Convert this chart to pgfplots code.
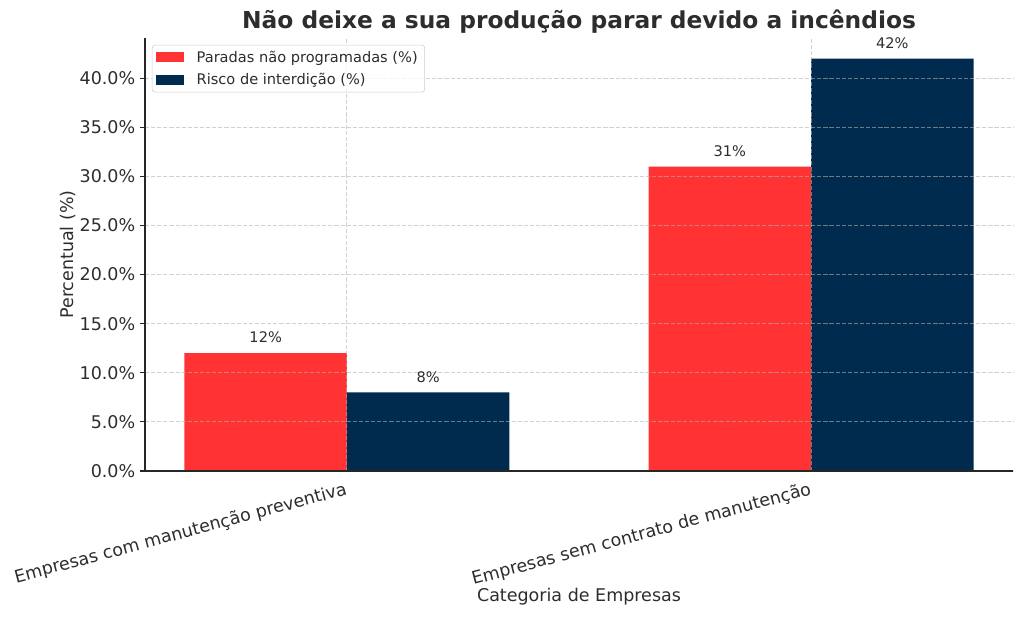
\documentclass[border=0pt]{standalone}
\usepackage{pgfplots}
\pgfplotsset{compat=1.18}
\usepackage{fontspec}
\setmainfont{DejaVu Sans}
\definecolor{redc}{RGB}{255,51,51}
\definecolor{navyc}{RGB}{0,43,79}
\definecolor{txt}{RGB}{45,45,45}
\begin{document}
\begin{tikzpicture}
\useasboundingbox (-104.4pt,-105.84pt) rectangle (632.88pt,339.12pt);
\begin{axis}[
  at={(0,0)}, anchor=south west,
  scale only axis, width=624.96pt, height=311.76pt,
  ybar, bar width=0.35,
  xmin=-0.435, xmax=1.435, ymin=0, ymax=44.1,
  axis on top,
  axis x line*=bottom, axis y line*=left,
  axis line style={-, draw=black!85, line width=0.9pt},
  xtick={0,1},
  xticklabels={Empresas com manutenção preventiva, Empresas sem contrato de manutenção},
  xtick style={draw=none},
  ytick={0,5,...,40},
  yticklabel={\pgfmathprintnumber[fixed,fixed zerofill,precision=1]{\tick}\%},
  /pgf/number format/assume math mode=true,
  tick align=outside, major tick length=3.5pt,
  ytick style={draw=black!85, line width=0.8pt},
  ticklabel style={font=\fontsize{12.6}{15}\selectfont, text=txt},
  xticklabel style={rotate=15, anchor=north east, inner sep=0pt, yshift=-3pt, xshift=-2.6pt},
  grid=major,
  major grid style={draw=gray!60, opacity=0.6, line width=0.6pt, dash pattern=on 3pt off 1.4pt},
  title={\bfseries Não deixe a sua produção parar devido a incêndios},
  title style={at={(axis description cs:0.5,1.0416)}, anchor=center, yshift=-7.5pt, font=\fontsize{16.8}{20}\selectfont, text=txt},
  xlabel={Categoria de Empresas},
  ylabel={Percentual (\%)},
  xlabel style={at={(axis description cs:0.5,-0.291)}, anchor=center, font=\fontsize{12.6}{15}\selectfont, text=txt},
  ylabel style={at={(axis description cs:-0.0887,0.5)}, anchor=center, font=\fontsize{12.6}{15}\selectfont, text=txt},
  nodes near coords={\pgfmathprintnumber{\pgfplotspointmeta}\%},
  every node near coord/.append style={font=\fontsize{10.5}{12.6}\selectfont, text=txt, anchor=south, inner sep=0pt, yshift=7pt},
  legend style={at={(axis description cs:0.008,0.984)}, anchor=north west,
    draw=black!20, rounded corners=2pt, fill=white, fill opacity=0.8, text opacity=1,
    font=\fontsize{10.5}{12.6}\selectfont, text=txt, inner xsep=3pt, inner ysep=2pt, row sep=2.5pt},
  legend cell align=left,
  legend image code/.code={\fill[#1, sharp corners, fill opacity=1] (0pt,-3.6pt) rectangle (20pt,3.6pt); \path (27pt,0pt);},
]
\addplot[fill=redc, draw=none, bar shift=-0.175] coordinates {(0,12) (1,31)};
\addplot[fill=navyc, draw=none, bar shift=0.175] coordinates {(0,8) (1,42)};
\legend{Paradas não programadas (\%), Risco de interdição (\%)}
\end{axis}
\end{tikzpicture}
\end{document}
